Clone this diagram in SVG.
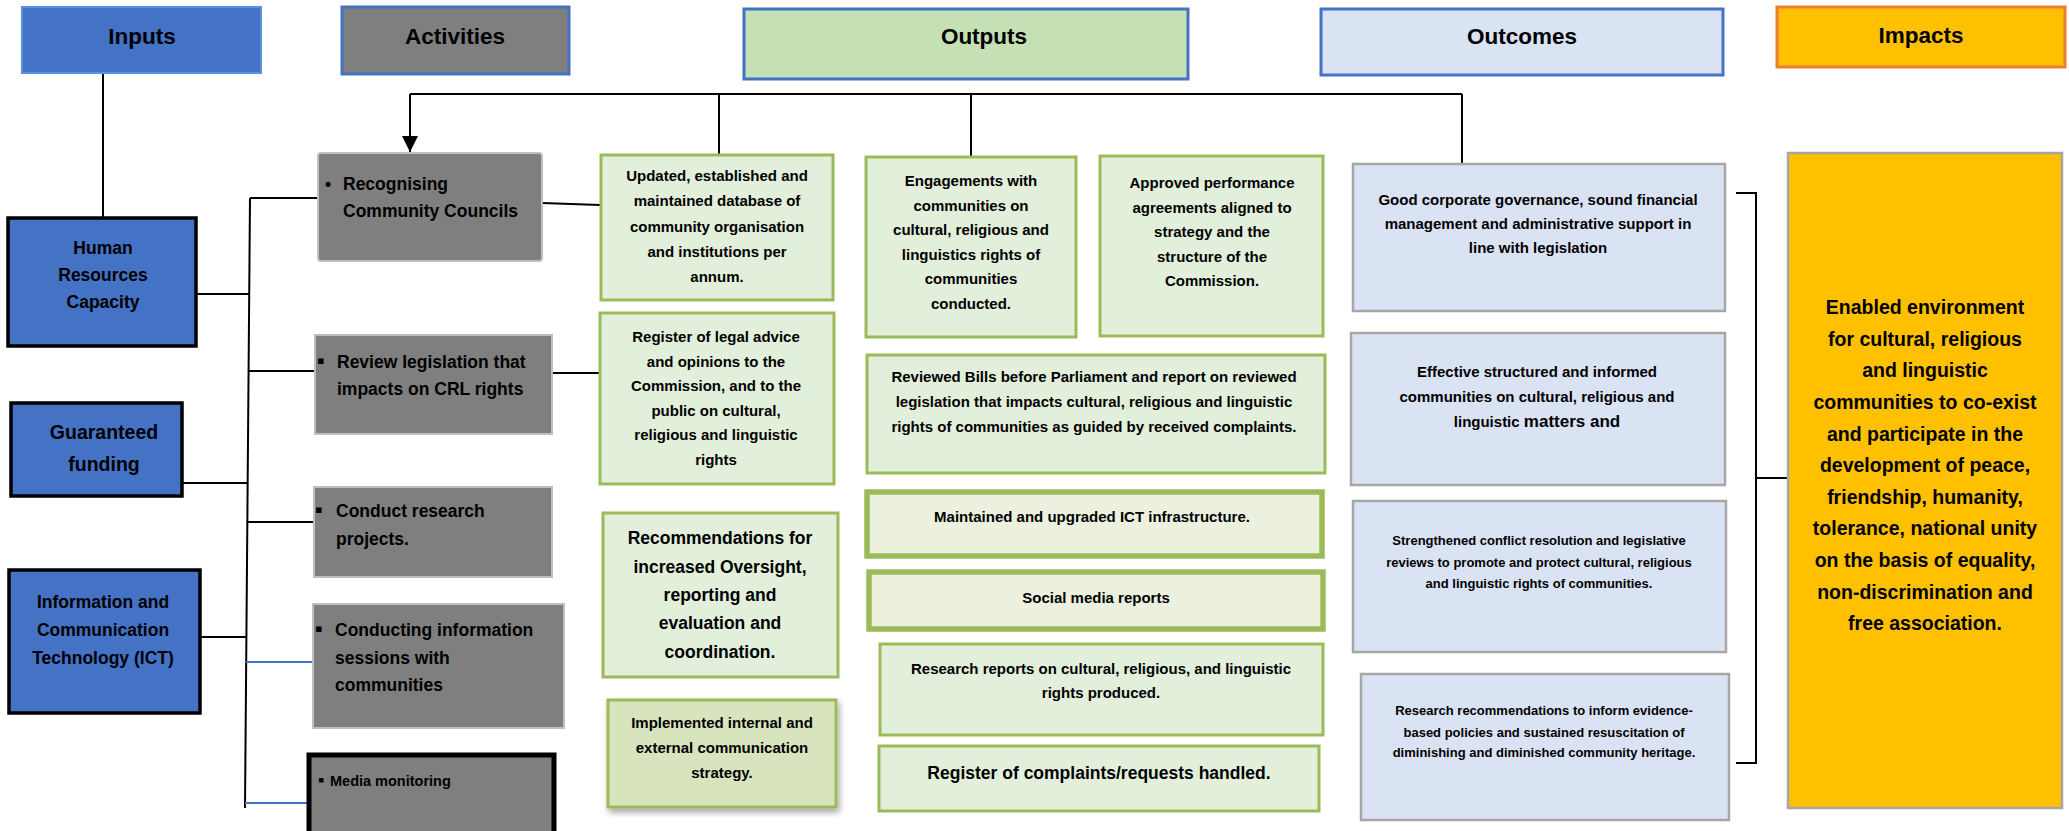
<svg xmlns="http://www.w3.org/2000/svg" width="2069" height="831" viewBox="0 0 2069 831">
<defs>
<style>
.t{font-family:"Liberation Sans",Arial,"DejaVu Sans",sans-serif;font-weight:bold;fill:#000}
.c{text-anchor:middle}
.hdr{font-size:22.5px}
.a{font-size:17.5px}
.b{font-size:22px}
.s15{font-size:15px}
.s13{font-size:13px}
.s17{font-size:17.5px}
.s19{font-size:19.5px}
.inbox{fill:#4472C4;stroke:#000;stroke-width:3.5}
.actbox{fill:#7F7F7F;stroke:#BFBFBF;stroke-width:2}
.outbox{fill:#E2EFDA;stroke:#9BBB59;stroke-width:3}
.outbox2{fill:#EBF1DE;stroke:#9BBB59;stroke-width:5.5}
.ocbox{fill:#DAE3F3;stroke:#A6A6A6;stroke-width:2.5}
.ln{stroke:#000;stroke-width:2;fill:none}
.lnb{stroke:#4472C4;stroke-width:2;fill:none}
</style>
<marker id="arr" markerUnits="userSpaceOnUse" markerWidth="16" markerHeight="16" viewBox="0 0 16 16" refX="16" refY="8" orient="auto">
<path d="M0,0 L16,8 L0,16 Z" fill="#000"/>
</marker>
<filter id="sh" x="-5%" y="-5%" width="115%" height="120%">
<feDropShadow dx="2" dy="4" stdDeviation="3" flood-color="#000" flood-opacity="0.35"/>
</filter>
</defs>

<g id="connectors">
<path class="ln" d="M410,94 H1462" stroke-width="3"/>
<path class="ln" d="M410,94 V152" stroke-width="2.5" marker-end="url(#arr)"/>
<path class="ln" d="M719,94 V156" stroke-width="1.5"/>
<path class="ln" d="M971,94 V157" stroke-width="1.5"/>
<path class="ln" d="M1462,94 V164" stroke-width="2"/>
<path class="ln" d="M103,73 V218"/>
<path class="ln" d="M250,198 L245,808"/>
<path class="ln" d="M250,198 H318"/>
<path class="ln" d="M196,294 H250"/>
<path class="ln" d="M248,371 H315"/>
<path class="ln" d="M182,483 H248"/>
<path class="ln" d="M247,522 H314"/>
<path class="ln" d="M200,637 H246"/>
<path class="lnb" d="M246,662 H312"/>
<path class="lnb" d="M245,803 H307"/>
<path class="ln" d="M542,203 L600,205"/>
<path class="ln" d="M552,373 H600"/>
<path class="ln" d="M1736,193 H1756 V763 H1736"/>
<path class="ln" d="M1756,478 H1788"/>
</g>

<g id="hdr-inputs">
<rect x="22" y="7" width="239" height="66" fill="#4472C4" stroke="#5B8FE0" stroke-width="2"/>
<text class="t hdr c" x="142" y="44">Inputs</text>
</g>
<g id="hdr-activities">
<rect x="342" y="7" width="227" height="67" fill="#7F7F7F" stroke="#4472C4" stroke-width="3"/>
<text class="t hdr c" x="455" y="44">Activities</text>
</g>
<g id="hdr-outputs">
<rect x="744" y="9" width="444" height="70" fill="#C5E0B4" stroke="#4472C4" stroke-width="3"/>
<text class="t hdr c" x="984" y="44">Outputs</text>
</g>
<g id="hdr-outcomes">
<rect x="1321" y="9" width="402" height="66" fill="#DAE3F3" stroke="#4472C4" stroke-width="3"/>
<text class="t hdr c" x="1522" y="44">Outcomes</text>
</g>
<g id="hdr-impacts">
<rect x="1777" y="7" width="288" height="60" fill="#FFC000" stroke="#ED7D31" stroke-width="3"/>
<text class="t hdr c" x="1921" y="43">Impacts</text>
</g>

<g id="in-hr">
<rect class="inbox" x="8" y="218" width="188" height="128"/>
<text class="t a c" x="103" y="254">Human</text>
<text class="t a c" x="103" y="281">Resources</text>
<text class="t a c" x="103" y="308">Capacity</text>
</g>
<g id="in-funding">
<rect class="inbox" x="11" y="403" width="171" height="93"/>
<text class="t s19 c" x="104" y="439">Guaranteed</text>
<text class="t s19 c" x="104" y="471">funding</text>
</g>
<g id="in-ict">
<rect class="inbox" x="9" y="570" width="191" height="143"/>
<text class="t a c" x="103" y="608">Information and</text>
<text class="t a c" x="103" y="636">Communication</text>
<text class="t a c" x="103" y="664">Technology (ICT)</text>
</g>

<g id="act-recognising">
<rect class="actbox" x="318" y="153" width="224" height="108" rx="3" stroke-width="1"/>
<text class="t a" x="325" y="190">•</text>
<text class="t a" x="343" y="190">Recognising</text>
<text class="t a" x="343" y="217">Community Councils</text>
</g>
<g id="act-review">
<rect class="actbox" x="315" y="335" width="237" height="99"/>
<text class="t b" x="317" y="368">▪</text>
<text class="t a" x="337" y="368">Review legislation that</text>
<text class="t a" x="337" y="395">impacts on CRL rights</text>
</g>
<g id="act-research">
<rect class="actbox" x="314" y="487" width="238" height="90"/>
<text class="t b" x="315" y="517">▪</text>
<text class="t a" x="336" y="517">Conduct research</text>
<text class="t a" x="336" y="545">projects.</text>
</g>
<g id="act-sessions">
<rect class="actbox" x="313" y="604" width="251" height="124"/>
<text class="t b" x="315" y="636">▪</text>
<text class="t a" x="335" y="636">Conducting information</text>
<text class="t a" x="335" y="664">sessions with</text>
<text class="t a" x="335" y="691">communities</text>
</g>
<g id="act-media">
<rect x="309" y="755" width="245" height="80" fill="#7F7F7F" stroke="#000" stroke-width="5"/>
<text class="t" style="font-size:18px" x="318" y="786">▪</text>
<text class="t" style="font-size:14.5px" x="330" y="786">Media monitoring</text>
</g>

<g id="out-database">
<rect class="outbox" x="601" y="155" width="232" height="145"/>
<text class="t s15 c" x="717" y="181">Updated, established and</text>
<text class="t s15 c" x="717" y="206">maintained database of</text>
<text class="t s15 c" x="717" y="232">community organisation</text>
<text class="t s15 c" x="717" y="257">and institutions per</text>
<text class="t s15 c" x="717" y="282">annum.</text>
</g>
<g id="out-legal">
<rect class="outbox" x="600" y="313" width="234" height="171"/>
<text class="t s15 c" x="716" y="342">Register of legal advice</text>
<text class="t s15 c" x="716" y="367">and opinions to the</text>
<text class="t s15 c" x="716" y="391">Commission, and to the</text>
<text class="t s15 c" x="716" y="416">public on cultural,</text>
<text class="t s15 c" x="716" y="440">religious and linguistic</text>
<text class="t s15 c" x="716" y="465">rights</text>
</g>
<g id="out-oversight">
<rect class="outbox" x="603" y="513" width="235" height="164"/>
<text class="t s17 c" x="720" y="544">Recommendations for</text>
<text class="t s17 c" x="720" y="573">increased Oversight,</text>
<text class="t s17 c" x="720" y="601">reporting and</text>
<text class="t s17 c" x="720" y="629">evaluation and</text>
<text class="t s17 c" x="720" y="658">coordination.</text>
</g>
<g id="out-communication">
<rect x="608" y="700" width="228" height="107" fill="#D7E4BD" stroke="#9BBB59" stroke-width="3" filter="url(#sh)"/>
<text class="t s15 c" x="722" y="728">Implemented internal and</text>
<text class="t s15 c" x="722" y="753">external communication</text>
<text class="t s15 c" x="722" y="778">strategy.</text>
</g>
<g id="out-engagements">
<rect class="outbox" x="866" y="157" width="210" height="180"/>
<text class="t s15 c" x="971" y="186">Engagements with</text>
<text class="t s15 c" x="971" y="211">communities on</text>
<text class="t s15 c" x="971" y="235">cultural, religious and</text>
<text class="t s15 c" x="971" y="260">linguistics rights of</text>
<text class="t s15 c" x="971" y="284">communities</text>
<text class="t s15 c" x="971" y="309">conducted.</text>
</g>
<g id="out-agreements">
<rect class="outbox" x="1100" y="156" width="223" height="180"/>
<text class="t s15 c" x="1212" y="188">Approved performance</text>
<text class="t s15 c" x="1212" y="213">agreements aligned to</text>
<text class="t s15 c" x="1212" y="237">strategy and the</text>
<text class="t s15 c" x="1212" y="262">structure of the</text>
<text class="t s15 c" x="1212" y="286">Commission.</text>
</g>
<g id="out-bills">
<rect class="outbox" x="867" y="355" width="458" height="118"/>
<text class="t s15 c" x="1094" y="382">Reviewed Bills before Parliament and report on reviewed</text>
<text class="t s15 c" x="1094" y="407">legislation that impacts cultural, religious and linguistic</text>
<text class="t s15 c" x="1094" y="432">rights of communities as guided by received complaints.</text>
</g>
<g id="out-ict">
<rect class="outbox2" x="867" y="492" width="455" height="64"/>
<text class="t s15 c" x="1092" y="522">Maintained and upgraded ICT infrastructure.</text>
</g>
<g id="out-social">
<rect class="outbox2" x="869" y="572" width="454" height="57"/>
<text class="t s15 c" x="1096" y="603">Social media reports</text>
</g>
<g id="out-research">
<rect class="outbox" x="880" y="644" width="443" height="91"/>
<text class="t s15 c" x="1101" y="674">Research reports on cultural, religious, and linguistic</text>
<text class="t s15 c" x="1101" y="698">rights produced.</text>
</g>
<g id="out-complaints">
<rect class="outbox" x="879" y="746" width="440" height="65"/>
<text class="t s17 c" x="1099" y="779">Register of complaints/requests handled.</text>
</g>

<g id="oc-governance">
<rect class="ocbox" x="1353" y="164" width="372" height="147"/>
<text class="t s15 c" x="1538" y="205">Good corporate governance, sound financial</text>
<text class="t s15 c" x="1538" y="229">management and administrative support in</text>
<text class="t s15 c" x="1538" y="253">line with legislation</text>
</g>
<g id="oc-communities">
<rect class="ocbox" x="1351" y="333" width="374" height="152"/>
<text class="t s15 c" x="1537" y="377">Effective structured and informed</text>
<text class="t s15 c" x="1537" y="402">communities on cultural, religious and</text>
<text class="t c" x="1537" y="427"><tspan class="s15">linguistic </tspan><tspan style="font-size:17px">matters and</tspan></text>
</g>
<g id="oc-conflict">
<rect class="ocbox" x="1353" y="501" width="373" height="151"/>
<text class="t s13 c" x="1539" y="545">Strengthened conflict resolution and legislative</text>
<text class="t s13 c" x="1539" y="567">reviews to promote and protect cultural, religious</text>
<text class="t s13 c" x="1539" y="588">and linguistic rights of communities.</text>
</g>
<g id="oc-heritage">
<rect class="ocbox" x="1361" y="674" width="368" height="146"/>
<text class="t s13 c" x="1544" y="715">Research recommendations to inform evidence-</text>
<text class="t s13 c" x="1544" y="737">based policies and sustained resuscitation of</text>
<text class="t s13 c" x="1544" y="757">diminishing and diminished community heritage.</text>
</g>

<g id="impact">
<rect x="1788" y="153" width="274" height="655" fill="#FFC000" stroke="#A6A6A6" stroke-width="2.5"/>
<text class="t s19 c" x="1925" y="314">Enabled environment</text>
<text class="t s19 c" x="1925" y="346">for cultural, religious</text>
<text class="t s19 c" x="1925" y="377">and linguistic</text>
<text class="t s19 c" x="1925" y="409">communities to co-exist</text>
<text class="t s19 c" x="1925" y="441">and participate in the</text>
<text class="t s19 c" x="1925" y="472">development of peace,</text>
<text class="t s19 c" x="1925" y="504">friendship, humanity,</text>
<text class="t s19 c" x="1925" y="535">tolerance, national unity</text>
<text class="t s19 c" x="1925" y="567">on the basis of equality,</text>
<text class="t s19 c" x="1925" y="599">non-discrimination and</text>
<text class="t s19 c" x="1925" y="630">free association.</text>
</g>
</svg>
